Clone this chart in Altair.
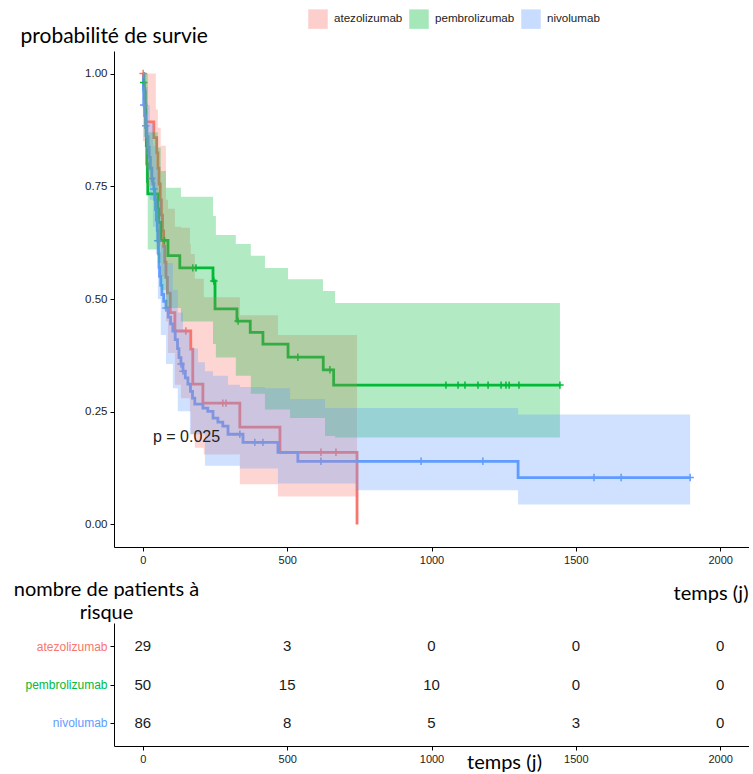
import altair as alt
import pandas as pd

groups = ["atezolizumab", "pembrolizumab", "nivolumab"]
palette = ["#F8766D", "#00BA38", "#619CFF"]

# Kaplan-Meier steps (days, survival)
atezo_time = [0, 3, 7, 10, 38, 48, 52, 56, 60, 64, 68, 72, 76, 80, 85, 95, 111, 166, 173, 208, 336, 475, 742]
atezo_surv = [1.0, 0.966, 0.931, 0.893, 0.858, 0.824, 0.79, 0.755, 0.72, 0.686, 0.651, 0.617, 0.582, 0.548,
              0.513, 0.47, 0.429, 0.389, 0.311, 0.269, 0.216, 0.16, 0.0]
atezo_censor = [1, 149, 277, 288, 617, 669]
atezo_band_time = [0, 10, 17, 45, 52, 62, 80, 87, 111, 132, 163, 166, 180, 211, 336, 468, 742]
atezo_upper = [1.0, 1.0, 1.0, 0.92, 0.88, 0.84, 0.72, 0.70, 0.66, 0.658, 0.622, 0.60, 0.545, 0.504, 0.464, 0.42, 0.42]
atezo_lower = [0.85, 0.79, 0.75, 0.70, 0.62, 0.55, 0.45, 0.38, 0.31, 0.28, 0.25, 0.2, 0.17, 0.155, 0.089, 0.062, 0.062]

pembro_time = [0, 3, 5, 8, 10, 12, 14, 16, 17, 52, 55, 62, 87, 128, 243, 250, 326, 372, 416, 503, 625, 661, 1445]
pembro_surv = [1.0, 0.98, 0.96, 0.92, 0.88, 0.84, 0.80, 0.76, 0.733, 0.70, 0.67, 0.63, 0.596, 0.569, 0.54,
               0.478, 0.451, 0.426, 0.40, 0.371, 0.343, 0.309, 0.309]
pembro_censor = [3, 75, 173, 184, 246, 330, 537, 648, 1050, 1092, 1116, 1161, 1196, 1241, 1258, 1269, 1303, 1445]
pembro_band_time = [0, 5, 10, 17, 52, 62, 80, 132, 243, 253, 322, 374, 423, 503, 510, 624, 631, 666, 1445]
pembro_upper = [1.0, 1.0, 1.0, 0.87, 0.836, 0.784, 0.747, 0.727, 0.684, 0.642, 0.622, 0.596, 0.569, 0.544,
                0.544, 0.518, 0.518, 0.491, 0.491]
pembro_lower = [0.94, 0.86, 0.76, 0.61, 0.58, 0.52, 0.48, 0.45, 0.40, 0.37, 0.33, 0.29, 0.255, 0.255, 0.236,
                0.236, 0.196, 0.193, 0.193]

nivo_time = [0, 2, 3, 6, 10, 14, 18, 22, 26, 31, 35, 38, 41, 44, 47, 50, 52, 54, 56, 58, 62, 66, 72, 80, 88,
             96, 104, 112, 120, 125, 132, 139, 147, 156, 165, 172, 180, 208, 225, 243, 260, 277, 295, 347,
             468, 537, 1300, 1896]
nivo_surv = [1.0, 0.965, 0.93, 0.907, 0.884, 0.86, 0.837, 0.814, 0.79, 0.767, 0.756, 0.744, 0.721, 0.698,
             0.675, 0.652, 0.629, 0.6, 0.57, 0.55, 0.53, 0.51, 0.495, 0.48, 0.46, 0.445, 0.429, 0.41, 0.39,
             0.37, 0.356, 0.34, 0.325, 0.311, 0.295, 0.28, 0.267, 0.258, 0.251, 0.236, 0.227, 0.218, 0.2,
             0.182, 0.16, 0.14, 0.104, 0.104]
nivo_censor = [3, 10, 31, 38, 52, 80, 132, 139, 336, 388, 416, 617, 964, 1178, 1563, 1657, 1896]
nivo_band_time = [0, 3, 10, 17, 24, 35, 45, 52, 62, 80, 104, 121, 139, 163, 191, 215, 243, 295, 336, 423,
                  468, 510, 631, 738, 1300, 1896]
nivo_upper = [1.0, 1.0, 0.97, 0.93, 0.89, 0.84, 0.79, 0.72, 0.62, 0.58, 0.52, 0.47, 0.43, 0.39, 0.36, 0.34,
              0.33, 0.31, 0.305, 0.302, 0.302, 0.278, 0.258, 0.258, 0.244, 0.244]
nivo_lower = [0.95, 0.86, 0.82, 0.78, 0.72, 0.66, 0.60, 0.50, 0.42, 0.356, 0.302, 0.251, 0.251, 0.2, 0.2,
              0.13, 0.13, 0.13, 0.124, 0.124, 0.091, 0.091, 0.091, 0.076, 0.044, 0.044]

pval_label = "p = 0.025"
pval_time = 35
pval_surv = 0.193

# number at risk table
risk_times = [0, 500, 1000, 1500, 2000]
risk_atezo = [29, 3, 0, 0, 0]
risk_pembro = [50, 15, 10, 0, 0]
risk_nivo = [86, 8, 5, 3, 0]

x_ticks = [0, 500, 1000, 1500, 2000]
y_ticks = [0, 0.25, 0.5, 0.75, 1.0]

series = {
    "atezolizumab": (atezo_time, atezo_surv, atezo_censor, atezo_band_time, atezo_lower, atezo_upper, risk_atezo),
    "pembrolizumab": (pembro_time, pembro_surv, pembro_censor, pembro_band_time, pembro_lower, pembro_upper, risk_pembro),
    "nivolumab": (nivo_time, nivo_surv, nivo_censor, nivo_band_time, nivo_lower, nivo_upper, risk_nivo),
}


def step_at(times, survs, t):
    val = survs[0]
    for tt, s in zip(times, survs):
        if tt <= t:
            val = s
        else:
            break
    return val


curve_rows, band_rows, cens_rows, risk_rows = [], [], [], []
for g, (tm, sv, cz, bt, lo, up, rk) in series.items():
    for i, (t, s) in enumerate(zip(tm, sv)):
        curve_rows.append({"group": g, "time": t, "surv": s, "ord": i})
    for t, l, u in zip(bt, lo, up):
        band_rows.append({"strata": g, "time": t, "lower": l, "upper": u})
    for t in cz:
        cens_rows.append({"group": g, "time": t, "surv": step_at(tm, sv, t)})
    for t, n in zip(risk_times, rk):
        risk_rows.append({"group": g, "time": t, "n": n})

curves = pd.DataFrame(curve_rows)
bands = pd.DataFrame(band_rows)
cens = pd.DataFrame(cens_rows)
risk = pd.DataFrame(risk_rows)
ptext = pd.DataFrame({"time": [pval_time], "surv": [pval_surv], "label": [pval_label]})

TITLE_FONT = "Lato"
TICK_FONT = "Liberation Sans"

x_scale = alt.Scale(domain=[-100, 2100], nice=False, zero=False)
y_scale = alt.Scale(domain=[-0.05, 1.05], nice=False, zero=False)
grp_scale = alt.Scale(domain=groups, range=palette)

common_axis = dict(grid=False, domainColor="black", tickColor="black", tickSize=4, labelPadding=3,
                   labelFont=TICK_FONT, titleFont=TITLE_FONT, titleFontWeight="normal", titleColor="black")

x_axis = alt.Axis(values=x_ticks, format="d", title="temps (j)", titleAlign="right", titleAnchor="end",
                  titleX=634, titleY=52, titleBaseline="alphabetic", titleFontSize=20,
                  labelFontSize=11, labelColor="#222222", **common_axis)
y_axis = alt.Axis(values=y_ticks, format=".2f", title="probabilité de survie", titleAngle=0,
                  titleAlign="left", titleX=-94, titleY=-9, titleBaseline="alphabetic", titleFontSize=21,
                  labelFontSize=11.5, labelColor="#222222", **common_axis)

lines = alt.Chart(curves).mark_line(interpolate="step-after", strokeWidth=2.8).encode(
    x=alt.X("time:Q", scale=x_scale, axis=x_axis),
    y=alt.Y("surv:Q", scale=y_scale, axis=y_axis),
    stroke=alt.Stroke("group:N", scale=grp_scale, legend=None),
    order="ord:Q",
)

censor = alt.Chart(cens).mark_point(shape="M-1,0H1M0,-1V1", size=55, strokeWidth=1.5, filled=False,
                                    opacity=1).encode(
    x=alt.X("time:Q", scale=x_scale, axis=x_axis),
    y=alt.Y("surv:Q", scale=y_scale, axis=y_axis),
    color=alt.Color("group:N", scale=grp_scale, legend=None),
)

band = alt.Chart(bands).mark_area(interpolate="step-after", opacity=0.3).encode(
    x=alt.X("time:Q", scale=x_scale, axis=x_axis),
    y=alt.Y("lower:Q", scale=y_scale, axis=y_axis),
    y2="upper:Q",
    fill=alt.Fill("strata:N", sort=groups, scale=alt.Scale(range=palette),
                  legend=alt.Legend(title=None, orient="none", legendX=194, legendY=-42,
                                    direction="horizontal", columns=3, symbolType="square",
                                    symbolSize=380, symbolOpacity=0.35, symbolStrokeWidth=0,
                                    labelFont=TICK_FONT, labelFontSize=11.6, labelColor="#222222",
                                    labelOffset=6, columnPadding=6, padding=0)),
)

ptxt = alt.Chart(ptext).mark_text(align="left", baseline="middle", font=TICK_FONT, fontSize=16,
                                   color="#222222").encode(
    x=alt.X("time:Q", scale=x_scale, axis=x_axis),
    y=alt.Y("surv:Q", scale=y_scale, axis=y_axis),
    text="label:N",
)

main = alt.layer(lines, censor, band, ptxt).properties(width=635, height=496)

label_color = {
    "condition": [
        {"test": "datum.value === 'atezolizumab'", "value": "#F8766D"},
        {"test": "datum.value === 'pembrolizumab'", "value": "#00BA38"},
    ],
    "value": "#619CFF",
}

table = alt.Chart(risk).mark_text(font=TICK_FONT, fontSize=15, color="#1a1a1a", baseline="middle").encode(
    x=alt.X("time:Q", scale=x_scale,
            axis=alt.Axis(values=x_ticks, format="d", title="temps (j)", titleX=390, titleY=22,
                          titleAlign="center", titleBaseline="alphabetic", titleFontSize=20,
                          labelColor="#222222", labelFontSize=11, **common_axis)),
    y=alt.Y("group:N", scale=alt.Scale(domain=groups, type="point", padding=0.6),
            axis=alt.Axis(title=["nombre de patients à", "risque"], titleAngle=0, titleAlign="center",
                          titleX=-8, titleY=-28, titleBaseline="alphabetic", titleLineHeight=23,
                          titleFontSize=20, labelColor=label_color, labelFontSize=12, **common_axis)),
    text="n:Q",
).properties(width=635, height=123)

chart = alt.vconcat(main, table, spacing=76, bounds="flush").properties(
    padding={"left": 13, "top": 9, "right": 0, "bottom": 0}
).configure_view(stroke=None)

chart.save("out.html", embed_options={"renderer": "svg", "actions": False})
